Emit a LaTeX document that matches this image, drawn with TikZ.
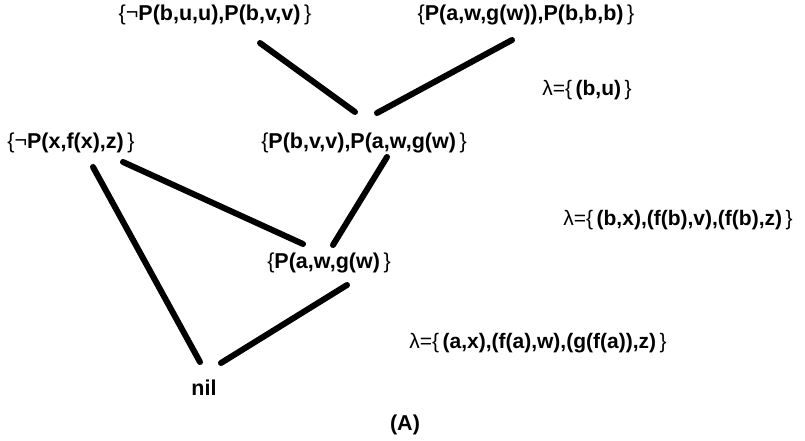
\documentclass[tikz,border=0pt]{standalone}
\usepackage{fontspec}
\setmainfont{Liberation Sans}
\newcommand{\lbr}{{\mdseries\{}}
\newcommand{\rbr}{{\mdseries\,\}}}
\newcommand{\nt}{\raisebox{0.1ex}{\mdseries¬}}
\tikzset{
  lbl/.style={font=\fontsize{21.5}{24}\selectfont\bfseries, inner sep=0pt, anchor=center},
  lam/.style={font=\fontsize{21}{24}\selectfont\bfseries, inner sep=0pt, anchor=center},
  edge/.style={line width=6pt, line cap=round}
}
\begin{document}
\begin{tikzpicture}[x=1pt,y=-1pt]
\useasboundingbox (0,0) rectangle (805,441);
\node[lbl] (n1) at (215,15) {\lbr\nt P(b,u,u),P(b,v,v)\rbr};
\node[lbl] (n2) at (526,15) {\lbr P(a,w,g(w)),P(b,b,b)\rbr};
\node[lam] (l1) at (587,90) {{\mdseries λ=}\lbr\,(b,u)\rbr};
\node[lbl] (n3) at (71,143) {\lbr\nt P(x,f(x),z)\rbr};
\node[lbl] (n4) at (364,143) {\lbr P(b,v,v),P(a,w,g(w)\rbr};
\node[lam] (l2) at (678,220) {{\mdseries λ=}\lbr\,(b,x),(f(b),v),(f(b),z)\rbr};
\node[lbl] (n5) at (329,263) {\lbr P(a,w,g(w)\rbr};
\node[lam] (l3) at (538,343) {{\mdseries λ=}\lbr\,(a,x),(f(a),w),(g(f(a)),z)\rbr};
\node[lbl] (nil) at (204,388) {nil};
\node[lbl] (cap) at (405,425) {(A)};
\coordinate (a1) at (260,43);  \coordinate (b1) at (355,112);
\coordinate (a2) at (512,40);  \coordinate (b2) at (377,113);
\coordinate (a3) at (93,167);  \coordinate (b3) at (200,362);
\coordinate (a4) at (123,162); \coordinate (b4) at (303,244);
\coordinate (a5) at (387,157); \coordinate (b5) at (333,245);
\coordinate (a6) at (347,285); \coordinate (b6) at (221,363);
\draw[edge] (a1) -- (b1);
\draw[edge] (a2) -- (b2);
\draw[edge] (a3) -- (b3);
\draw[edge] (a4) -- (b4);
\draw[edge] (a5) -- (b5);
\draw[edge] (a6) -- (b6);
\end{tikzpicture}
\end{document}
